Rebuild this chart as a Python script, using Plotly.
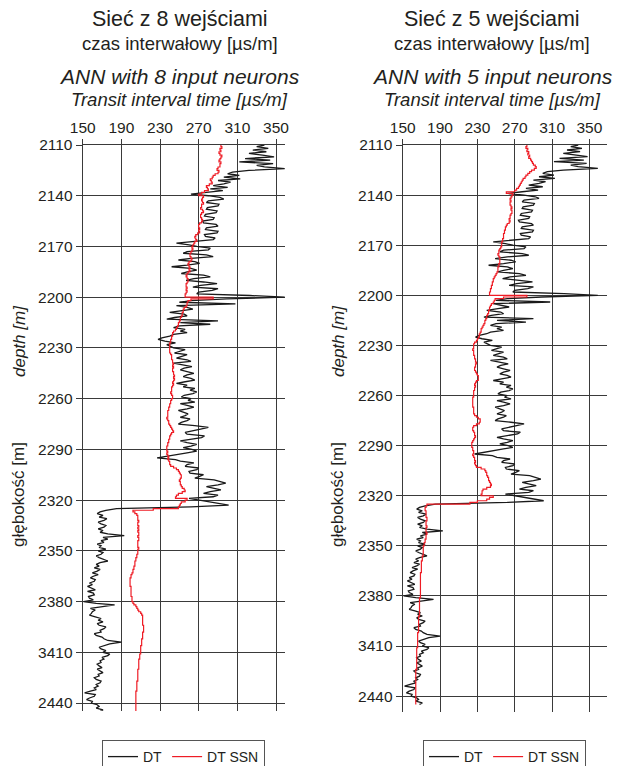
import plotly.graph_objects as go

# Depth samples (1 m step) shared by all logs
DEPTH = list(range(2110, 2446))

# Measured transit interval time DT [us/m]
DT = [
    338, 330, 342, 326, 340, 322, 336, 348, 318, 344,
    312, 347, 330, 338, 359, 322, 305, 300, 312, 296,
    313, 290, 303, 296, 285, 300, 282, 295, 278, 262,
    280, 292, 296, 280, 278, 291, 290, 279, 278, 289,
    288, 277, 276, 286, 285, 274, 275, 288, 290, 278,
    277, 290, 289, 276, 277, 287, 285, 265, 247, 260,
    268, 282, 280, 258, 254, 278, 285, 262, 249, 266,
    271, 258, 242, 262, 268, 258, 252, 275, 282, 265,
    257, 275, 289, 272, 264, 290, 284, 270, 268, 323,
    359, 299, 262, 250, 308, 247, 258, 264, 252, 240,
    255, 258, 245, 237, 290, 251, 282, 250, 244, 256,
    251, 258, 244, 240, 232, 228, 235, 246, 237, 241,
    244, 256, 250, 245, 258, 251, 247, 258, 262, 244,
    252, 263, 255, 251, 258, 265, 258, 254, 262, 266,
    256, 247, 258, 254, 266, 261, 268, 264, 255, 252,
    262, 259, 266, 251, 258, 265, 258, 249, 254, 259,
    256, 251, 261, 258, 252, 249, 266, 280, 272, 265,
    256, 258, 276, 273, 262, 251, 258, 268, 262, 254,
    263, 268, 258, 248, 240, 227, 246, 251, 265, 258,
    256, 270, 268, 260, 261, 275, 271, 266, 286, 292,
    298, 290, 278, 286, 293, 282, 275, 290, 285, 260,
    270, 282, 290, 301, 262, 185,
    174, 168, 165, 171, 167, 175, 172, 166, 169, 174,
    172, 166, 171, 168, 176, 193, 171, 176, 169, 172,
    165, 169, 167, 174, 166, 171, 169, 164, 167, 172,
    176, 168, 164, 167, 162, 168, 165, 160, 166, 161,
    158, 163, 162, 157, 160, 155, 160, 163, 155, 161,
    162, 156, 157, 161, 151, 164, 183, 167, 158, 163,
    160, 159, 157, 163, 169, 166, 171, 165, 167, 174,
    172, 168, 169, 162, 164, 170, 172, 176, 190, 178,
    171, 167, 169, 174, 171, 178, 176, 170, 172, 168,
    169, 165, 167, 170, 165, 168, 171, 166, 167, 162,
    164, 169, 168, 164, 166, 162, 164, 158, 152, 163,
    162, 157, 154, 160, 159, 165, 167, 164, 171, 168,
]

# Network estimate, 8 input neurons
DT_SSN_8 = [
    293, 294, 292, 293, 291, 292, 294, 293, 292, 291,
    293, 292, 292, 290, 289, 291, 290, 287, 285, 284,
    282, 283, 284, 281, 278, 279, 280, 276, 273, 270,
    275, 274, 273, 274, 275, 273, 273, 272, 274, 275,
    273, 272, 272, 273, 274, 273, 271, 270, 270, 271,
    270, 271, 269, 267, 266, 267, 268, 266, 265, 264,
    263, 264, 263, 262, 261, 261, 262, 263, 262, 260,
    259, 260, 261, 260, 261, 259, 258, 257, 258, 259,
    259, 258, 257, 257, 258, 257, 258, 257, 256, 256,
    285, 262, 259, 258, 258, 257, 255, 254, 254, 253,
    253, 252, 251, 251, 250, 249, 249, 248, 247, 246,
    244, 243, 243, 242, 242, 241, 241, 240, 240, 240,
    240, 240, 240, 241, 242, 242, 242, 243, 243, 244,
    243, 244, 243, 243, 244, 244, 245, 244, 245, 244,
    243, 244, 243, 242, 242, 242, 241, 242, 243, 243,
    242, 241, 241, 240, 240, 239, 239, 238, 238, 238,
    238, 237, 238, 239, 239, 240, 241, 242, 243, 244,
    242, 241, 240, 240, 239, 239, 238, 238, 237, 237,
    237, 238, 237, 238, 239, 238, 239, 240, 240, 241,
    244, 247, 249, 250, 251, 252, 252, 251, 250, 251,
    251, 252, 253, 255, 256, 253, 249, 247, 246, 258,
    256, 252, 251, 250, 249, 223,
    202, 204, 206, 207, 207, 207, 208, 207, 207, 208,
    207, 208, 207, 208, 208, 207, 208, 208, 207, 207,
    207, 207, 208, 207, 207, 207, 206, 206, 205, 205,
    204, 204, 204, 203, 203, 202, 202, 201, 200, 200,
    199, 199, 199, 199, 199, 200, 200, 200, 200, 200,
    200, 201, 201, 201, 202, 203, 205, 206, 207, 208,
    210, 211, 212, 212, 212, 212, 212, 212, 213, 213,
    213, 213, 212, 212, 212, 212, 211, 211, 211, 211,
    210, 210, 210, 210, 210, 209, 209, 209, 208, 208,
    208, 208, 208, 208, 207, 207, 207, 207, 207, 207,
    207, 206, 206, 206, 206, 206, 206, 205, 205, 205,
    205, 205, 205, 205, 205, 205, 205, 205, 205, 205,
]

# Network estimate, 5 input neurons
DT_SSN_5 = [
    283, 282, 284, 283, 285, 284, 286, 285, 287, 288,
    289, 290, 292, 293, 291, 288, 286, 284, 282, 281,
    279, 278, 277, 276, 275, 274, 272, 270, 261, 268,
    267, 266, 265, 266, 265, 265, 266, 267, 266, 267,
    267, 266, 265, 265, 264, 265, 264, 262, 261, 260,
    260, 259, 259, 258, 258, 258, 257, 257, 256, 256,
    256, 255, 254, 253, 253, 252, 253, 254, 254, 254,
    254, 253, 253, 252, 252, 252, 251, 250, 249, 248,
    247, 247, 246, 246, 245, 245, 244, 244, 243, 243,
    283, 258, 249, 248, 247, 245, 244, 243, 243, 242,
    242, 241, 240, 240, 239, 238, 238, 237, 236, 235,
    234, 234, 233, 232, 232, 231, 230, 229, 227, 226,
    226, 226, 225, 226, 226, 226, 227, 227, 228, 228,
    229, 228, 228, 227, 227, 228, 229, 230, 231, 231,
    231, 229, 228, 227, 228, 227, 227, 226, 226, 226,
    226, 225, 225, 225, 225, 225, 225, 226, 226, 226,
    226, 227, 229, 231, 233, 233, 232, 229, 226, 225,
    225, 226, 227, 227, 228, 227, 226, 225, 224, 224,
    224, 225, 225, 226, 226, 225, 226, 227, 227, 228,
    227, 228, 229, 234, 238, 239, 240, 240, 241, 242,
    242, 243, 244, 245, 244, 240, 236, 235, 235, 234,
    247, 243, 240, 230, 222, 176,
    175, 174, 174, 175, 175, 175, 175, 176, 176, 175,
    175, 175, 176, 175, 175, 175, 176, 175, 175, 175,
    174, 174, 173, 173, 172, 172, 172, 172, 172, 172,
    171, 171, 171, 170, 170, 170, 170, 170, 170, 170,
    169, 169, 169, 169, 169, 169, 169, 169, 169, 169,
    169, 169, 169, 169, 169, 168, 168, 168, 168, 168,
    168, 168, 168, 168, 168, 168, 167, 167, 167, 167,
    167, 167, 167, 167, 167, 167, 166, 166, 166, 166,
    166, 166, 166, 166, 166, 165, 165, 165, 165, 165,
    165, 165, 165, 165, 165, 165, 165, 165, 164, 164,
    164, 164, 164, 164, 164, 164, 164, 164, 164, 164,
    164, 164, 164, 164, 164, 164, 164, 164, 164, 164,
]

X_TICKS = [150, 190, 230, 270, 310, 350]
Y_TICKS = [2110, 2140, 2170, 2200, 2230, 2260, 2290, 2320, 2350, 2380, 2410, 2440]
Y_TICK_TEXT = ["2110", "2140", "2170", "2200", "2230", "2260", "2290", "2320",
               "2350", "2380", "3410", "2440"]

W, H = 617, 766
FONT = "Liberation Sans, Arial, sans-serif"
GRID = "#3a3a3a"
TXT = "#231f20"


def px(x):
    return x / W


def py(y):
    return 1 - y / H


fig = go.Figure()

panels = [
    ("x", "y", "legend", DT_SSN_8),
    ("x2", "y2", "legend2", DT_SSN_5),
]
for xa, ya, lg, ssn in panels:
    fig.add_trace(go.Scatter(
        x=DT, y=DEPTH, xaxis=xa, yaxis=ya, mode="lines", name="DT",
        line=dict(color="#1a1a1a", width=1.3), legend=lg,
    ))
    fig.add_trace(go.Scatter(
        x=ssn, y=DEPTH, xaxis=xa, yaxis=ya, mode="lines", name="DT SSN",
        line=dict(color="#ee1c25", width=1.2, shape="vh"), legend=lg,
    ))

xcommon = dict(
    side="top", tickvals=X_TICKS, ticks="outside", ticklen=5, tickwidth=1.2,
    tickcolor=GRID, showgrid=True, gridcolor=GRID, gridwidth=1.2,
    showline=True, linecolor=GRID, linewidth=1.2, zeroline=False,
    tickfont=dict(family=FONT, size=15.5, color=TXT),
)
ycommon = dict(
    tickvals=Y_TICKS, ticktext=Y_TICK_TEXT, ticks="outside", ticklen=6,
    tickwidth=1.2, tickcolor=GRID, showgrid=True, gridcolor=GRID,
    gridwidth=1.2, showline=True, linecolor=GRID, linewidth=1.2,
    zeroline=False, tickfont=dict(family=FONT, size=15.5, color=TXT),
)
legend_style = dict(orientation="h", xanchor="left", yanchor="top",
                    bordercolor="#555", borderwidth=1, bgcolor="white",
                    font=dict(family=FONT, size=14, color=TXT))

fig.update_layout(
    width=W, height=H,
    margin=dict(l=0, r=0, t=0, b=0, autoexpand=False),
    paper_bgcolor="white", plot_bgcolor="white",
    xaxis=dict(domain=[px(82.7), px(285)], range=[150, 359.3], **xcommon),
    yaxis=dict(domain=[py(711), py(145)], range=[2444.7, 2110], **ycommon),
    xaxis2=dict(domain=[px(402.7), px(606.7)], range=[150, 368.5],
                anchor="y2", **xcommon),
    yaxis2=dict(domain=[py(711.7), py(145)], range=[2449.3, 2110],
                anchor="x2", **ycommon),
    legend=dict(x=px(102), y=py(740), **legend_style),
    legend2=dict(x=px(423), y=py(740), **legend_style),
)

titles = [
    (180, "Sieć z 8 wejściami", "czas interwałowy [µs/m]",
     "ANN with 8 input neurons", "Transit interval time [µs/m]"),
    (492, "Sieć z 5 wejściami", "czas interwałowy [µs/m]",
     "ANN with 5 input neurons", "Transit interval time [µs/m]"),
]
for cx, t1, t2, t3, t4 in titles:
    for text, y, size in [(t1, 19, 21.5), (t2, 44, 18.5),
                          ("<i>" + t3 + "</i>", 76, 21), ("<i>" + t4 + "</i>", 99, 18.5)]:
        fig.add_annotation(text=text, x=px(cx), y=py(y), xref="paper", yref="paper",
                           xanchor="center", yanchor="middle", showarrow=False,
                           font=dict(family=FONT, size=size, color=TXT))

for cx in (19, 338):
    fig.add_annotation(text="<i>depth [m]</i>", x=px(cx), y=py(341), xref="paper",
                       yref="paper", textangle=-90, showarrow=False,
                       xanchor="center", yanchor="middle",
                       font=dict(family=FONT, size=17, color=TXT))
    fig.add_annotation(text="głębokość [m]", x=px(cx), y=py(495), xref="paper",
                       yref="paper", textangle=-90, showarrow=False,
                       xanchor="center", yanchor="middle",
                       font=dict(family=FONT, size=17, color=TXT))

fig.write_html("out.html")
